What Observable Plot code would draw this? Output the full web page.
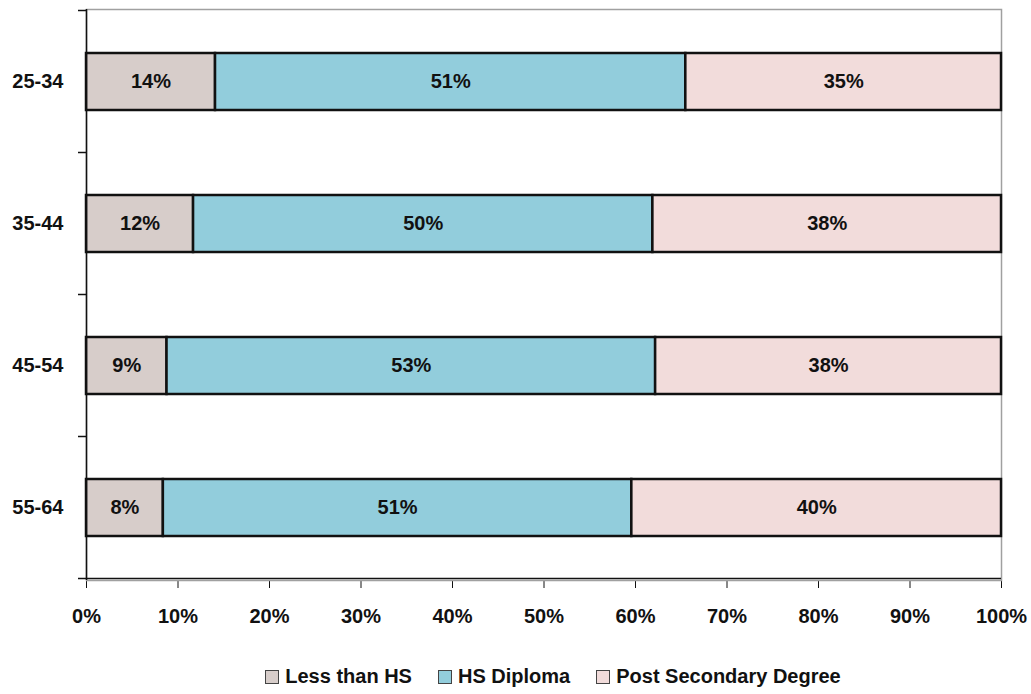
<!DOCTYPE html>
<html>
<head>
<meta charset="utf-8">
<script src="https://cdn.jsdelivr.net/npm/d3@7"></script>
<script src="https://cdn.jsdelivr.net/npm/@observablehq/plot@0.6"></script>
<style>
  body { margin: 0; background: #fff; font-family: "Liberation Sans", Arial, sans-serif; }
  #legend { display: flex; justify-content: center; gap: 26px; padding-left: 75px; margin-top: 25px;
            font-weight: bold; font-size: 20px; line-height: 23px; color: #111; }
  #legend .item { display: flex; align-items: center; gap: 6px; }
  #legend .sw { width: 12px; height: 12px; border: 1px solid #444; }
</style>
</head>
<body>
<div id="chart"></div>
<div id="legend"></div>
<script>
const ages = ["25-34", "35-44", "45-54", "55-64"];
const categories = ["Less than HS", "HS Diploma", "Post Secondary Degree"];
const colors = ["#d7cdca", "#92cddc", "#f2dcdb"];
const lessHS = [14.1, 11.7, 8.8, 8.4];
const hsDiploma = [51.4, 50.2, 53.4, 51.2];
const postSecondary = [34.5, 38.1, 37.8, 40.4];
const xTicks = [0, 10, 20, 30, 40, 50, 60, 70, 80, 90, 100];

const series = [lessHS, hsDiploma, postSecondary];
const data = ages.flatMap((age, i) =>
  categories.map((cat, j) => ({ age, cat, v: series[j][i] })));

const font = "'Liberation Sans', Arial, sans-serif";

const chart = Plot.plot({
  width: 1031,
  height: 640,
  marginLeft: 86,
  marginRight: 30,
  marginTop: 9,
  marginBottom: 60,
  style: { fontFamily: font, fontSize: "20px", fontWeight: "bold", color: "#111", background: "#fff" },
  x: { domain: [0, 100], ticks: xTicks, tickFormat: d => d + "%", tickSize: 8, tickPadding: 20, label: null },
  y: { domain: ages, paddingInner: 0.6, paddingOuter: 0.3, tickSize: 0, tickPadding: 23, label: null },
  color: { domain: categories, range: colors },
  marks: [
    Plot.frame({ stroke: "#a0a0a0", strokeWidth: 1.5 }),
    Plot.barX(data, { x: "v", y: "age", fill: "cat", stroke: "#111", strokeWidth: 2.5 }),
    Plot.text(data, Plot.stackX({ x: "v", y: "age", z: "cat", text: d => Math.round(d.v) + "%",
      fontSize: 20, fontWeight: "bold", fill: "#111" })),
    Plot.ruleX([0], { stroke: "#111", strokeWidth: 1.5 })
  ]
});
document.getElementById("chart").appendChild(chart);

// bottom axis line and category-boundary ticks on y axis, using the plot's scales
const sx = chart.scale("x"), sy = chart.scale("y");
const svg = d3.select(chart);
const x0 = sx.apply(0), x1 = sx.apply(100);
const step = sy.step;
const bounds = ages.map(a => sy.apply(a) - (step - sy.bandwidth) / 2);
bounds.push(bounds[bounds.length - 1] + step);
svg.append("line").attr("x1", x0).attr("x2", x1).attr("y1", bounds[bounds.length - 1]).attr("y2", bounds[bounds.length - 1])
  .attr("stroke", "#111").attr("stroke-width", 1.5);
svg.append("g").selectAll("line").data(bounds).join("line")
  .attr("x1", x0 - 8).attr("x2", x0).attr("y1", d => d).attr("y2", d => d)
  .attr("stroke", "#111").attr("stroke-width", 1.5);

// legend
const legend = d3.select("#legend");
categories.forEach((c, i) => {
  const it = legend.append("div").attr("class", "item");
  it.append("div").attr("class", "sw").style("background", colors[i]);
  it.append("span").text(c);
});
</script>
</body>
</html>
